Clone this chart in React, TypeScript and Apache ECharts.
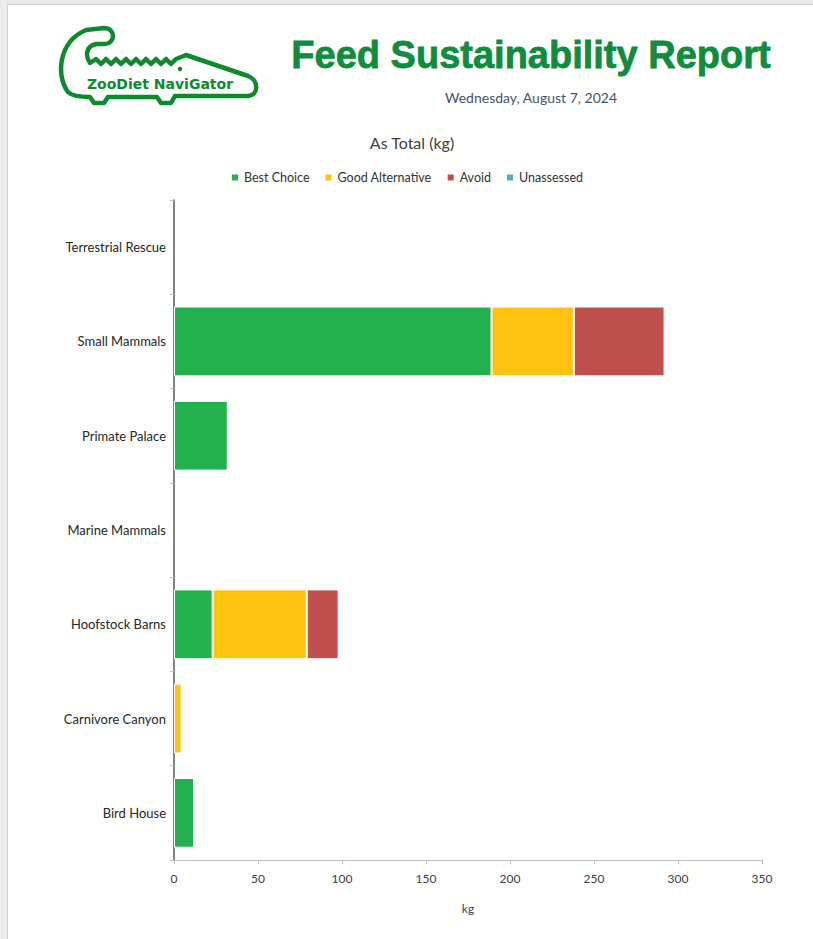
import React, { useEffect, useRef } from "react";
import * as echarts from "echarts";

const categories = [
  "Bird House",
  "Carnivore Canyon",
  "Hoofstock Barns",
  "Marine Mammals",
  "Primate Palace",
  "Small Mammals",
  "Terrestrial Rescue",
];
const bestChoice = [12, null, 23, null, 32, 189, null];
const goodAlternative = [null, 4.5, 56, null, null, 49, null];
const avoid = [null, null, 19, null, null, 54, null];
const unassessed = [null, null, null, null, null, null, null];

const seriesNames = ["Best Choice", "Good Alternative", "Avoid", "Unassessed"];
const seriesColors = ["#23B14D", "#FFC211", "#C0504D", "#4BACC6"];
const xTicks = { min: 0, max: 350, interval: 50 };

const reportTitle = "Feed Sustainability Report";
const reportDate = "Wednesday, August 7, 2024";
const chartTitle = "As Total (kg)";
const logoText = "ZooDiet NaviGator";

function buildLogoPath() {
  let teeth = "";
  let up = true;
  for (let x = 96; x <= 180; x += 5) {
    teeth += ` L ${x} ${up ? 59 : 64}`;
    up = !up;
  }
  return (
    "M 68 92 C 56 76 58 42 86 30 L 104 28 C 116 28 116 44 104 44 L 96 44 C 86 46 85 56 90 63" +
    teeth +
    " L 186 55 L 248 76 C 259 80 259 95 248 96 L 175 96 L 171 103 L 161 103 L 157 97 L 108 97 L 104 103 L 94 103 L 90 97 C 80 97 72 96 68 92 Z"
  );
}

export default function App() {
  const ref = useRef<HTMLDivElement>(null);
  useEffect(() => {
    if (!ref.current) return;
    try {
      echarts.graphic.registerShape(
        "logo",
        echarts.graphic.extendPath(buildLogoPath(), {}) as any
      );
    } catch (e) {}
    const chart = echarts.init(ref.current, null, { renderer: "svg" });
    const font = "Lato, 'Open Sans', sans-serif";
    const data = [bestChoice, goodAlternative, avoid, unassessed];
    chart.setOption({
      animation: false,
      backgroundColor: "#ffffff",
      textStyle: { fontFamily: font },
      title: {
        text: chartTitle,
        left: 407,
        top: 129,
        textAlign: "center",
        textStyle: { fontSize: 16, fontWeight: "normal", color: "#404040", fontFamily: font },
      },
      legend: {
        top: 166,
        left: "center",
        data: seriesNames,
        itemWidth: 8,
        itemHeight: 8,
        itemGap: 14,
        icon: "rect",
        textStyle: { fontSize: 12.5, color: "#333333", fontFamily: font },
      },
      grid: { left: 174, right: 51, top: 200, bottom: 79, containLabel: false },
      xAxis: {
        type: "value",
        min: xTicks.min,
        max: xTicks.max,
        interval: xTicks.interval,
        name: "kg",
        nameLocation: "middle",
        nameGap: 42,
        nameTextStyle: { fontSize: 12, color: "#404040", fontFamily: font },
        axisLine: { show: true, lineStyle: { color: "#BFBFBF", width: 1 } },
        axisTick: { show: true, length: 4, lineStyle: { color: "#BFBFBF" } },
        axisLabel: { fontSize: 12, color: "#404040", margin: 12, fontFamily: font },
        splitLine: { show: false },
      },
      yAxis: {
        type: "category",
        data: categories,
        axisLine: { show: true, lineStyle: { color: "#595959", width: 1.5 } },
        axisTick: { show: true, length: 4, lineStyle: { color: "#BFBFBF" } },
        axisLabel: { fontSize: 13, color: "#262626", margin: 8, fontFamily: font },
      },
      series: seriesNames.map((name, i) => ({
        name,
        type: "bar",
        stack: "total",
        barWidth: "74%",
        itemStyle: { color: seriesColors[i], borderColor: "#ffffff", borderWidth: 1 },
        data: data[i],
      })),
      graphic: [
        { type: "rect", shape: { x: 0, y: 0, width: 813, height: 4 }, style: { fill: "#E8E8E8" }, silent: true },
        { type: "line", shape: { x1: 7, y1: 4.5, x2: 813, y2: 4.5 }, style: { stroke: "#CFCFCF", lineWidth: 1 }, silent: true },
        { type: "rect", shape: { x: 0, y: 0, width: 7, height: 939 }, style: { fill: "#EDEDED" }, silent: true },
        { type: "line", shape: { x1: 7.5, y1: 4, x2: 7.5, y2: 939 }, style: { stroke: "#CFCFCF", lineWidth: 1 }, silent: true },
        {
          type: "logo",
          x: 0,
          y: 0,
          style: { fill: "none", stroke: "#0E8A2E", lineWidth: 4.5, lineJoin: "round" },
          silent: true,
        },
        { type: "circle", shape: { cx: 180, cy: 69, r: 2.2 }, style: { fill: "#0E8A2E" }, silent: true },
        {
          type: "text",
          x: 160,
          y: 84,
          style: {
            text: logoText,
            fill: "#0E8A2E",
            font: "bold 14px 'DejaVu Sans', sans-serif",
            textAlign: "center",
            textVerticalAlign: "middle",
          },
          silent: true,
        },
        {
          type: "text",
          x: 531,
          y: 55,
          style: {
            text: reportTitle,
            fill: "#118C3F",
            font: "bold 38px 'Liberation Sans', Arial, sans-serif",
            textAlign: "center",
            textVerticalAlign: "middle",
            stroke: "#118C3F",
            lineWidth: 0.8,
          },
          silent: true,
        },
        {
          type: "text",
          x: 531,
          y: 97,
          style: {
            text: reportDate,
            fill: "#44546A",
            font: "14px Lato, 'Open Sans', sans-serif",
            textAlign: "center",
            textVerticalAlign: "middle",
          },
          silent: true,
        },
      ],
    });
    return () => chart.dispose();
  }, []);
  return (
    <div
      ref={ref}
      style={{ position: "absolute", left: 0, top: 0, width: 813, height: 939 }}
    />
  );
}
